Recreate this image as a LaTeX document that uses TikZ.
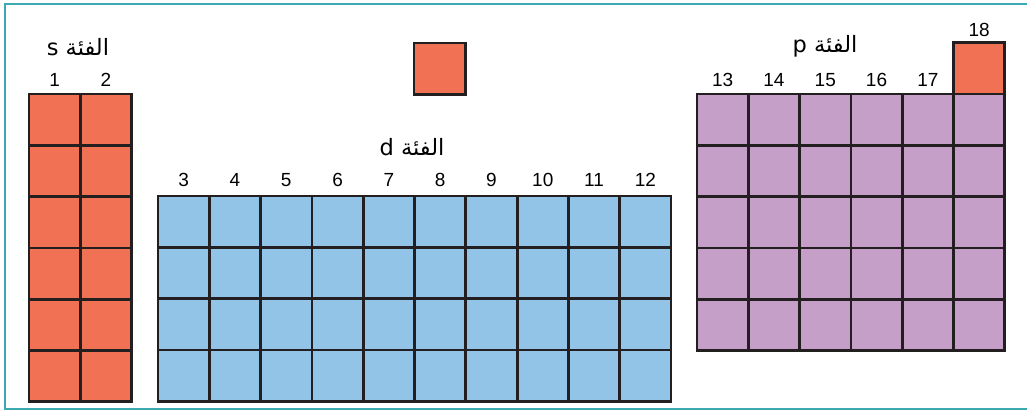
\documentclass[tikz,border=0pt]{standalone}
\usepackage{fontspec}
\setmainfont{Liberation Sans}
\newfontfamily\arabicfont[Script=Arabic]{DejaVu Sans}
\TeXXeTstate=1
\usetikzlibrary{positioning, calc}

\definecolor{sfill}{HTML}{F07153}
\definecolor{dfill}{HTML}{92C4E8}
\definecolor{pfill}{HTML}{C69FC9}
\definecolor{gridline}{HTML}{231F20}
\definecolor{framecol}{HTML}{3BA8B2}

\tikzset{
  cell/.style={draw=gridline, line width=2.8pt, minimum size=51.3pt, inner sep=0pt, outer sep=0pt},
  num/.style={inner sep=0pt, font=\fontsize{19}{22}\selectfont},
  blocklabel/.style={inner sep=0pt, font=\fontsize{22.5}{26}\arabicfont},
}

\begin{document}
\begin{tikzpicture}[x=1pt, y=-1pt]
    \useasboundingbox (0,0) rectangle (1027,410);
    \draw[framecol, line width=2pt] (1027,4) -- (5,4) -- (5,409) -- (1027,409);

% s block
\begin{scope}[shift={(29,94)}]
    \foreach \r in {1,...,6}
        \foreach \c in {1,2}
            \node[cell, fill=sfill] (s-\r-\c) at ({(\c-0.5)*51.3},{(\r-0.5)*51.3}) {};
\end{scope}
    \node[num, above=7pt of s-1-1] (g1) {1};
    \node[num, above=7pt of s-1-2] (g2) {2};
    \node[blocklabel] (slabel) at (78,47) {\beginR الفئة s\endR};

% lone cell at the top
    \node[cell, fill=sfill] (h) at (439.7,68.7) {};

% d block
\begin{scope}[shift={(158,196)}]
    \foreach \r in {1,...,4}
        \foreach \c in {1,...,10}
            \node[cell, fill=dfill] (d-\r-\c) at ({(\c-0.5)*51.3},{(\r-0.5)*51.3}) {};
\end{scope}
    \foreach \c in {1,...,10} {
        \pgfmathtruncatemacro\g{\c+2}
        \node[num, above=9pt of d-1-\c] (g\g) {\g};
    }
    \node[blocklabel] (dlabel) at (412,147) {\beginR الفئة d\endR};

% p block
\begin{scope}[shift={(697,94)}]
    \foreach \r in {1,...,5}
        \foreach \c in {1,...,6}
            \node[cell, fill=pfill] (p-\r-\c) at ({(\c-0.5)*51.3},{(\r-0.5)*51.3}) {};
\end{scope}
    \foreach \c in {1,...,5} {
        \pgfmathtruncatemacro\g{\c+12}
        \node[num, above=7pt of p-1-\c] (g\g) {\g};
    }
    \node[cell, fill=sfill, above=0pt of p-1-6] (he) {};
    \node[num, above=6pt of he] (g18) {18};
    \node[blocklabel] (plabel) at (825,46) {\beginR الفئة p\endR};

\end{tikzpicture}
\end{document}
